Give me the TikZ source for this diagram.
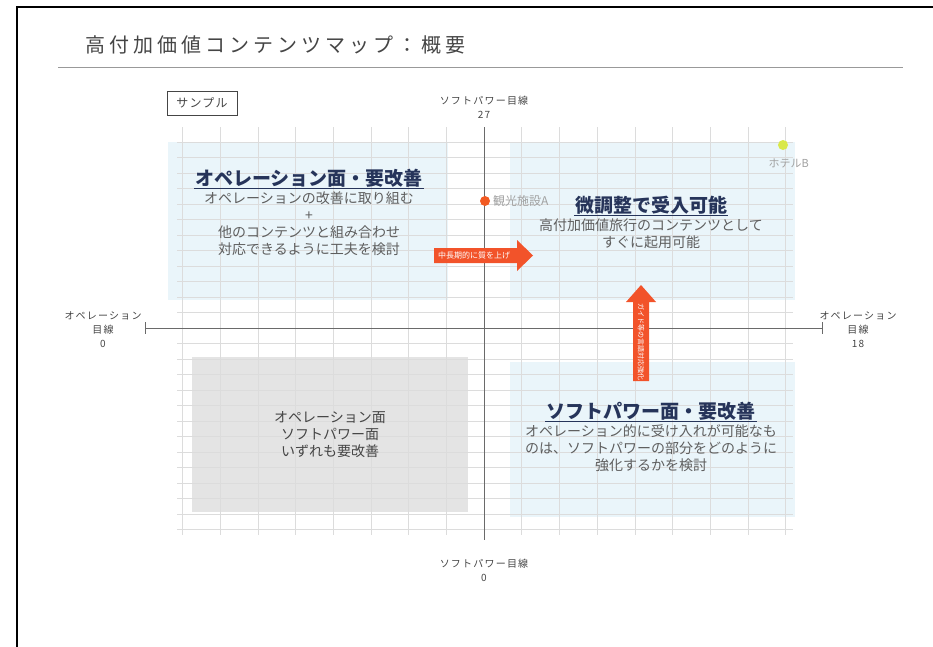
\documentclass[tikz,border=0pt]{standalone}
\usepackage{fontspec}
\setmainfont{Noto Sans CJK JP}
\newfontfamily\cjk{Noto Sans CJK JP}
\usetikzlibrary{calc}
\definecolor{navy}{HTML}{26345A}
\definecolor{bodygray}{HTML}{5E5E5E}
\definecolor{titlegray}{HTML}{454545}
\definecolor{lightblue}{HTML}{EAF5FA}
\definecolor{boxgray}{HTML}{E4E4E4}
\definecolor{gridc}{HTML}{DCDCDC}
\definecolor{axisc}{HTML}{6A6A6A}
\definecolor{arroworange}{HTML}{F2532A}
\definecolor{dotorange}{HTML}{F25A22}
\definecolor{dotyellow}{HTML}{D9E84A}
\definecolor{labelgray}{HTML}{A0A0A0}
\tikzset{
  gridline/.style={draw=gridc, line width=0.5pt},
  axisline/.style={draw=axisc, line width=1pt},
  heading/.style={text=navy, font=\fontsize{19}{22}\selectfont\bfseries, inner sep=1pt},
  bodytext/.style={text=bodygray, font=\fontsize{14}{17}\selectfont, align=center, inner sep=0pt},
  axislabel/.style={text=titlegray, font=\fontsize{10}{14}\selectfont\addfontfeatures{LetterSpace=12}, align=center, inner sep=0pt},
  arrowtext/.style={text=white, font=\fontsize{8}{9}\selectfont, inner sep=0pt},
  ulinestyle/.style={draw=navy, line width=1pt},
}
\begin{document}
\begin{tikzpicture}[x=1pt,y=-1pt]
\useasboundingbox (0,0) rectangle (933,646);
% outer frame (top and left edges visible)
\begin{scope}
\clip (0,0) rectangle (933,646);
\draw[line width=2pt, black] (17,700) -- (17,7) -- (960,7);
\end{scope}
% title
\node[anchor=west, text=titlegray, inner sep=0pt, font=\fontsize{20}{24}\selectfont\addfontfeatures{LetterSpace=20}] (title) at (85,45) {高付加価値コンテンツマップ：概要};
\coordinate (tl1) at (58,67);
\coordinate (tl2) at (903,67);
\draw[draw=gray!80, line width=1pt] (tl1) -- (tl2);
% sample box
\node[draw=titlegray, line width=0.8pt, text=titlegray, minimum width=70pt, minimum height=24pt, inner sep=0pt, font=\fontsize{12}{14}\selectfont\addfontfeatures{LetterSpace=10}] (sample) at (202,103) {サンプル};
% quadrant fills
\fill[lightblue] (168,142) rectangle (448,300);
\fill[lightblue] (510,142) rectangle (795,300);
\fill[lightblue] (510,362) rectangle (795,517);
\fill[boxgray] (192,357) rectangle (468,512);
% grid
\foreach \k in {-8,...,8} {
  \draw[gridline] ({484+37.7*\k},127) -- ({484+37.7*\k},535);
}
\foreach \k in {-12,...,13} {
  \draw[gridline] (177,{328+15.5*\k}) -- (793,{328+15.5*\k});
}
% axes
\coordinate (vtop) at (484,127);
\coordinate (vbot) at (484,540);
\coordinate (hl) at (145,328);
\coordinate (hr) at (822,328);
\draw[axisline] (vtop) -- (vbot);
\draw[axisline] (hl) -- (hr);
\draw[axisline] ($(hl)+(0,-6)$) -- ($(hl)+(0,6)$);
\draw[axisline] ($(hr)+(0,-6)$) -- ($(hr)+(0,6)$);
% axis labels
\node[axislabel] (ltop) at (484,107) {ソフトパワー目線\\27};
\node[axislabel] (lbot) at (484,570) {ソフトパワー目線\\0};
\node[axislabel] (lleft) at (103,330) {オペレーション\\目線\\0};
\node[axislabel] (lright) at (858,330) {オペレーション\\目線\\18};
% top-left quadrant text
\node[heading] (h1) at (309,178) {オペレーション面・要改善};
\draw[ulinestyle] ($(h1.south west)+(0,0.5)$) -- ($(h1.south east)+(0,0.5)$);
\node[bodytext, anchor=north] (b1) at (309,192) {オペレーションの改善に取り組む\\+\\他のコンテンツと組み合わせ\\対応できるように工夫を検討};
% top-right quadrant text
\node[heading] (h2) at (651,205) {微調整で受入可能};
\draw[ulinestyle] ($(h2.south west)+(0,0.5)$) -- ($(h2.south east)+(0,0.5)$);
\node[bodytext, anchor=north] (b2) at (651,219) {高付加価値旅行のコンテンツとして\\すぐに起用可能};
% bottom-right quadrant text
\node[heading] (h3) at (651,411) {ソフトパワー面・要改善};
\draw[ulinestyle] ($(h3.south west)+(0,0.5)$) -- ($(h3.south east)+(0,0.5)$);
\node[bodytext, anchor=north] (b3) at (651,424) {オペレーション的に受け入れが可能なも\\のは、ソフトパワーの部分をどのように\\強化するかを検討};
% bottom-left
\node[bodytext, text=titlegray] (b4) at (330,435) {オペレーション面\\ソフトパワー面\\いずれも要改善};
% points
\fill[dotorange] (485,201) circle (5pt);
\node[anchor=west, text=labelgray, inner sep=0pt, font=\fontsize{12}{14}\selectfont] (pA) at (493,201) {観光施設A};
\fill[dotyellow] (783,145) circle (5pt);
\node[anchor=east, text=labelgray, inner sep=0pt, font=\fontsize{11}{13}\selectfont] (pB) at (809,163) {ホテルB};
% horizontal arrow
\fill[arroworange] (434,248) -- (517,248) -- (517,240) -- (533,255.5) -- (517,271) -- (517,263) -- (434,263) -- cycle;
\node[arrowtext] (ta) at (474,255.5) {中長期的に質を上げ};
% vertical arrow
\fill[arroworange] (633,381) -- (633,302) -- (626,302) -- (641,285) -- (656,302) -- (649,302) -- (649,381) -- cycle;
\node[arrowtext, rotate=-90, font=\fontsize{7}{8}\selectfont] (tv) at (641,342) {ガイド等の言語対応強化};
\end{tikzpicture}
\end{document}
